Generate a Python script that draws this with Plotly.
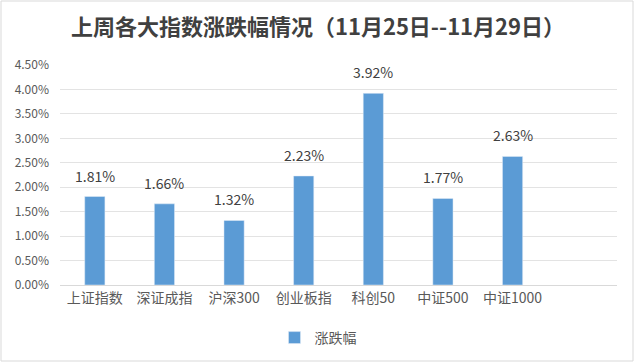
import plotly.graph_objects as go

categories = ["上证指数", "深证成指", "沪深300", "创业板指", "科创50", "中证500", "中证1000"]
values = [1.81, 1.66, 1.32, 2.23, 3.92, 1.77, 2.63]
series_name = "涨跌幅"
title = "上周各大指数涨跌幅情况（11月25日--11月29日）"

W, H = 636, 364
ml, mr, mt, mb = 60, 19, 65, 79
pw, ph = W - ml - mr, H - mt - mb

font = "Noto Sans CJK SC"
xs = list(range(len(categories)))
fig = go.Figure()
fig.add_trace(go.Bar(
    x=xs, y=values, name=series_name,
    marker_color="#5b9bd5", width=0.29, showlegend=True, hoverinfo="skip",
))
for x, v in zip(xs, values):
    fig.add_annotation(x=x, y=v, text=f"{v:.2f}%", showarrow=False, yanchor="bottom",
                       yshift=9, font=dict(size=14, color="#404040", family=font))
fig.update_layout(
    width=W, height=H,
    margin=dict(l=ml, r=mr, t=mt, b=mb, autoexpand=False),
    plot_bgcolor="white", paper_bgcolor="white",
    title=dict(text=title, x=0.5, xanchor="center", y=1 - 27 / H, yanchor="middle",
               font=dict(size=22, color="#404040", family=font, weight="bold")),
    xaxis=dict(range=[-0.5, 7.5], tickmode="array", tickvals=xs,
               ticktext=categories, showgrid=False, zeroline=False,
               showline=True, linecolor="#d9d9d9", linewidth=1,
               tickfont=dict(size=14, color="#595959", family=font), ticks=""),
    yaxis=dict(range=[0, 4.5], dtick=0.5, tickformat=".2f", ticksuffix="%",
               showgrid=True, gridcolor="#e3e3e3", zeroline=False, showline=False,
               tickfont=dict(size=12, color="#595959", family=font), ticks="",
               ticklabelstandoff=10),
    legend=dict(orientation="h", x=(318 - ml) / pw, xanchor="center", y=-(338 - (mt + ph)) / ph,
                yanchor="middle", font=dict(size=14, color="#595959", family=font)),
    shapes=[dict(type="rect", xref="paper", yref="paper",
                 x0=(1 - ml) / pw, x1=(633 - ml) / pw,
                 y0=(H - 361 - mb) / ph, y1=(H - 1 - mb) / ph,
                 line=dict(color="#d9d9d9", width=1), fillcolor="rgba(0,0,0,0)")],
)
fig.write_html("out.html", config={"displayModeBar": False},
               post_script="document.body.style.margin='0';")
